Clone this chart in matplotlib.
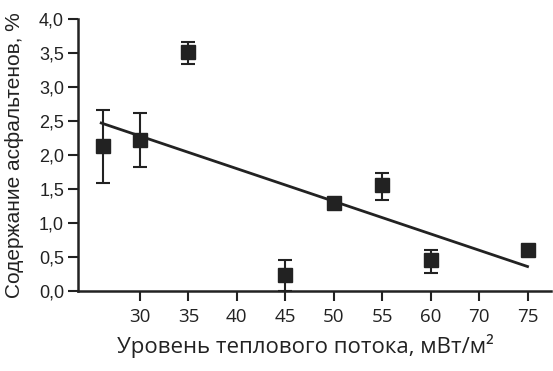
import numpy as np
import matplotlib.pyplot as plt

# Данные
flux = [26.2, 30, 35, 45, 50, 55, 60, 75]
asph = [2.13, 2.22, 3.52, 0.24, 1.30, 1.56, 0.46, 0.61]
err_low = [0.54, 0.39, 0.18, 0.24, 0.0, 0.22, 0.19, 0.0]
err_high = [0.53, 0.39, 0.14, 0.22, 0.0, 0.17, 0.15, 0.0]
trend_x = [26.0, 75.0]
trend_y = [2.47, 0.36]
xticks = [30, 35, 40, 45, 50, 55, 60, 70, 75]
yticks = [0.0, 0.5, 1.0, 1.5, 2.0, 2.5, 3.0, 3.5, 4.0]

# ось X на рисунке неравномерная: интервал 60-70 сжат вдвое
def fwd(x):
    return np.interp(x, [0, 60, 70, 100], [0, 60, 65, 95])

def inv(x):
    return np.interp(x, [0, 60, 65, 95], [0, 60, 70, 100])

col = '#222222'
fig = plt.figure(figsize=(5.53, 3.71), dpi=100)
ax = fig.add_axes([0.141, 0.2156, 0.855, 0.7334])
ax.set_xscale('function', functions=(fwd, inv))

ax.plot(trend_x, trend_y, color=col, lw=2.0)
ax.errorbar(flux, asph, yerr=[err_low, err_high], fmt='s', color=col,
            ms=10, elinewidth=1.5, capsize=5.2, capthick=1.5, clip_on=False)

ax.set_xlim(23.6, 77.4)
ax.set_ylim(0, 4.0)
ax.set_xticks(xticks)
ax.set_xticklabels([str(t) for t in xticks], family='Open Sans', fontsize=13.5)
ax.set_yticks(yticks)
ax.set_yticklabels([f'{t:.1f}'.replace('.', ',') for t in yticks],
                   family='Liberation Sans', fontsize=13)
ax.minorticks_off()

for s in ['top', 'right']:
    ax.spines[s].set_visible(False)
for s in ['left', 'bottom']:
    ax.spines[s].set_linewidth(1.8)
    ax.spines[s].set_color(col)
ax.tick_params(axis='both', direction='out', length=7, width=1.5, color=col, labelcolor=col)
ax.tick_params(axis='x', pad=5)
ax.tick_params(axis='y', pad=3)

ax.set_xlabel('Уровень теплового потока, мВт/м²', family='Open Sans', fontsize=16,
              color=col, labelpad=6)
ax.xaxis.label.set_x(0.48)
ax.set_ylabel('Содержание асфальтенов, %', family='Liberation Sans', fontsize=15,
              color=col, labelpad=11)

fig.savefig('out.png', dpi=100)
